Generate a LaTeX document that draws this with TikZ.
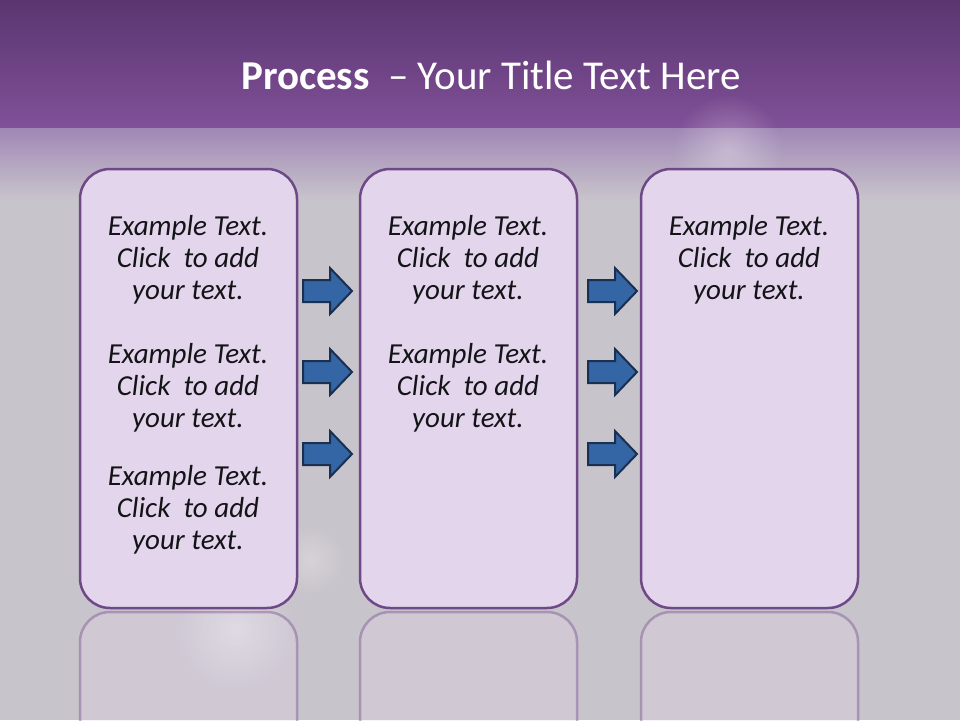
\documentclass[tikz,border=0pt]{standalone}
\usepackage{fontspec}
\setmainfont{Carlito}
\usetikzlibrary{fadings}

\definecolor{bandtop}{RGB}{90,54,112}
\definecolor{bandbot}{RGB}{128,80,152}
\definecolor{haze}{RGB}{160,135,182}
\definecolor{slide}{RGB}{200,196,203}
\definecolor{panelfill}{RGB}{227,214,236}
\definecolor{panelline}{RGB}{111,72,136}
\definecolor{arrowfill}{RGB}{52,101,164}
\definecolor{arrowline}{RGB}{26,48,82}
\definecolor{ink}{RGB}{20,20,24}

\tikzfading[name=glowfade, inner color=transparent!0, outer color=transparent!100]

\tikzset{
  panel/.style={draw=panelline, line width=2.5pt, fill=panelfill,
    rounded corners=30pt, minimum width=217pt, minimum height=439pt, inner sep=0pt},
  mirror/.style={draw=panelline, draw opacity=.4, line width=2.5pt, fill=panelfill,
    fill opacity=.3, rounded corners=30pt},
  blurb/.style={align=center, font=\fontsize{29}{32}\selectfont\itshape, text=ink},
  blockarrow/.style={draw=arrowline, line width=2pt, fill=arrowfill, line join=miter}
}

\newcommand{\exampletext}{Example Text.\\Click\ \ to add\\your text.}

\begin{document}
\begin{tikzpicture}[x=1pt,y=-1pt]
\useasboundingbox (0,0) rectangle (960,720);

% background
\fill[slide] (0,0) rectangle (960,720);
\shade[top color=bandtop, bottom color=bandbot] (0,0) rectangle (960,128);
\shade[top color=haze, bottom color=slide] (0,128) rectangle (960,200);
\fill[white, opacity=.3, path fading=glowfade] (728,150) circle (55);
\fill[white, opacity=.4, path fading=glowfade] (235,630) circle (60);
\fill[white, opacity=.25, path fading=glowfade] (310,560) circle (35);

% title
\node (title) at (491,75) {\color{white}\fontsize{41}{46}\selectfont
  \textbf{Process}\ \ – Your Title Text Here};

% reflections
\foreach \x in {80,360,641}
  \draw[mirror] (\x,612) rectangle ++(217,439);

% panels
\node[panel] (left) at (188.5,388.5) {};
\node[panel] (middle) at (468.5,388.5) {};
\node[panel] (right) at (749.5,388.5) {};

% texts
\foreach \p/\cx in {left/188,middle/468,right/749}
  \node[blurb] (\p top) at (\cx,260) {\exampletext};
\foreach \p/\cx in {left/188,middle/468}
  \node[blurb] (\p mid) at (\cx,388) {\exampletext};
\node[blurb] (left low) at (188,510) {\exampletext};

% arrows
\foreach \x in {303,588}
  \foreach \y in {291,372,454}
    \draw[blockarrow] (\x,\y-11) -- ++(27,0) -- ++(0,-12) -- (\x+49,\y)
      -- (\x+27,\y+23) -- ++(0,-12) -- (\x,\y+11) -- cycle;
\end{tikzpicture}
\end{document}
